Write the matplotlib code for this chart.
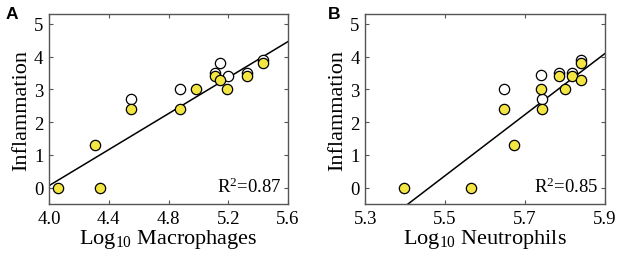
import matplotlib
matplotlib.use("Agg")
import matplotlib.pyplot as plt
import numpy as np

plt.rcParams['font.family'] = ['Liberation Serif', 'DejaVu Serif']
plt.rcParams['mathtext.fontset'] = 'custom'
plt.rcParams['mathtext.rm'] = 'Liberation Serif'
plt.rcParams['mathtext.it'] = 'Liberation Serif:italic'

# Panel A: macrophages
mac_yellow_x = [4.062, 4.307, 4.341, 4.546, 4.876, 4.983, 5.112, 5.143, 5.192, 5.328, 5.431]
mac_yellow_y = [0.0, 1.3, 0.0, 2.4, 2.4, 3.0, 3.4, 3.3, 3.0, 3.4, 3.8]
mac_open_x = [4.546, 4.876, 5.112, 5.143, 5.197, 5.328, 5.431]
mac_open_y = [2.7, 3.0, 3.5, 3.8, 3.4, 3.5, 3.9]
mac_fit = [2.75, -10.94]  # slope, intercept
mac_r2 = "0.87"

# Panel B: neutrophils
neu_yellow_x = [5.398, 5.564, 5.647, 5.672, 5.741, 5.744, 5.786, 5.800, 5.818, 5.841, 5.841]
neu_yellow_y = [0.0, 0.0, 2.4, 1.3, 3.0, 2.4, 3.4, 3.0, 3.4, 3.8, 3.3]
neu_open_x = [5.647, 5.741, 5.742, 5.786, 5.818, 5.841]
neu_open_y = [3.0, 3.44, 2.7, 3.5, 3.5, 3.9]
neu_fit = [9.31, -50.84]
neu_r2 = "0.85"

mac_ticks = [4.0, 4.4, 4.8, 5.2, 5.6]
neu_ticks = [5.3, 5.5, 5.7, 5.9]
y_ticks = [0, 1, 2, 3, 4, 5]

YELLOW = '#F4E642'
SPINE = '#555555'

fig = plt.figure(figsize=(6.17, 2.55), dpi=100)
axA = fig.add_axes([0.0794, 0.196, 0.3874, 0.745])
axB = fig.add_axes([0.592, 0.196, 0.388, 0.745])

def draw(ax, yx, yy, ox, oy, fit, r2, xticks, xlim, xlabel):
    ax.scatter(ox, oy, s=55, facecolor='white', edgecolor='black', linewidth=0.9, zorder=3)
    ax.scatter(yx, yy, s=55, facecolor=YELLOW, edgecolor='black', linewidth=0.9, zorder=4)
    xs = np.array(xlim)
    ax.plot(xs, fit[0] * xs + fit[1], color='black', lw=1.1, zorder=2)
    ax.set_xlim(xlim)
    ax.set_ylim(-0.5, 5.3)
    ax.set_xticks(xticks)
    ax.set_xticklabels([f"{t:.1f}" for t in xticks])
    ax.set_yticks(y_ticks)
    ax.tick_params(direction='in', top=True, right=True, labelsize=13.5,
                   length=3, width=0.8, color=SPINE, pad=4)
    for sp in ax.spines.values():
        sp.set_color(SPINE)
        sp.set_linewidth(1.0)
    ax.set_ylabel('Inflammation', fontsize=16, labelpad=2)
    ax.set_xlabel(xlabel, fontsize=16, labelpad=0)
    ax.text(0.975, 0.04, r'R$^2$=' + r2, transform=ax.transAxes, ha='right', va='bottom', fontsize=13.5)

draw(axA, mac_yellow_x, mac_yellow_y, mac_open_x, mac_open_y, mac_fit, mac_r2,
     mac_ticks, (4.0, 5.6), r'Log$_{10}$ Macrophages')
draw(axB, neu_yellow_x, neu_yellow_y, neu_open_x, neu_open_y, neu_fit, neu_r2,
     neu_ticks, (5.3, 5.9), r'Log$_{10}$ Neutrophils')

fig.text(6 / 617, 1 - 14.5 / 255, 'A', fontsize=12.5, fontweight='bold', family='Liberation Sans',
         ha='left', va='center')
fig.text(328 / 617, 1 - 14.5 / 255, 'B', fontsize=12.5, fontweight='bold', family='Liberation Sans',
         ha='left', va='center')

fig.savefig('out.png', dpi=100)
